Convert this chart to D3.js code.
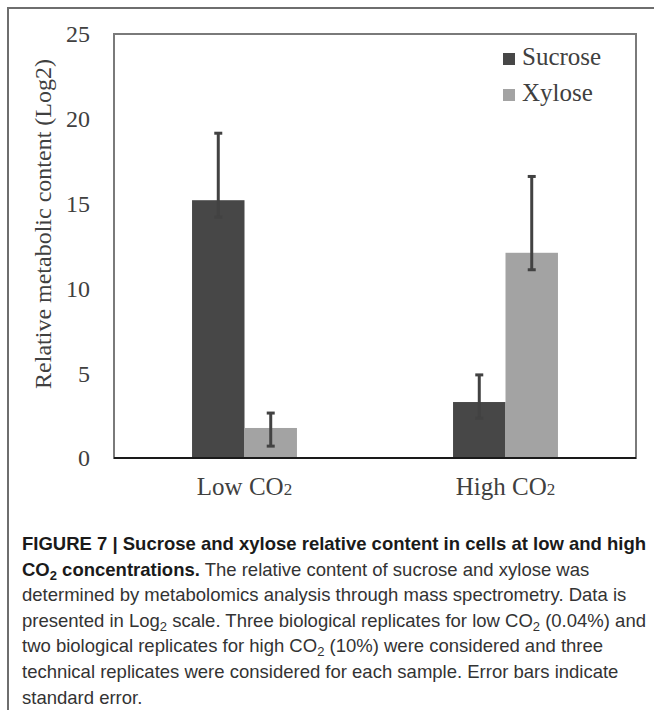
<html>
<head>
  <title></title>
  <script src="https://cdn.jsdelivr.net/npm/d3@7"></script>
<style type="text/css">
body { margin: 0; background: #fff; }
</style>
</head>
<body>
<script type="text/javascript">
// values (Log2 relative content)
var categories = ['Low CO', 'High CO'];
var seriesNames = ['Sucrose', 'Xylose'];
var sucrose = [15.2, 3.3];
var xylose = [1.77, 12.1];
// error bar ends (upper / lower)
var sucroseHi = [19.15, 4.9];
var sucroseLo = [14.2, 2.35];
var xyloseHi = [2.65, 16.6];
var xyloseLo = [0.7, 11.1];
var yTicks = [0, 5, 10, 15, 20, 25];

var colors = {Sucrose: '#474747', Xylose: '#a3a3a3'};
var serif = '"Liberation Serif", "Times New Roman", serif';

var w = 654, h = 710;
// note: "top" is taken by window.top, so plot edges get their own names
var plotL = 114, plotR = 636, plotT = 34, plotB = 458;

var svg = d3.select('body').append('svg')
  .attr('width', w)
  .attr('height', h);

// outer frame (top and left only)
svg.append('path')
  .attr('d', 'M8,710 L8,8 L654,8')
  .attr('fill', 'none')
  .attr('stroke', '#6e6e6e')
  .attr('stroke-width', 2);

var y = d3.scaleLinear().domain([0, 25]).range([plotB, plotT]);
var x0 = d3.scaleBand().domain(categories).range([plotL, plotR])
  .paddingInner(0.598).paddingOuter(0.299);
var x1 = d3.scaleBand().domain(seriesNames).range([0, x0.bandwidth()]);

// plot box
svg.append('rect')
  .attr('x', plotL).attr('y', plotT)
  .attr('width', plotR - plotL).attr('height', plotB - plotT)
  .attr('fill', 'none')
  .attr('stroke', '#7a7a7a')
  .attr('stroke-width', 2);

// y axis tick labels
var yAxis = d3.axisLeft(y).tickValues(yTicks).tickSize(0).tickPadding(0);
var gy = svg.append('g')
  .attr('transform', 'translate(90,0)')
  .call(yAxis);
gy.select('.domain').remove();
gy.selectAll('text')
  .attr('font-family', serif)
  .attr('font-size', 24)
  .attr('fill', '#404040')
  .attr('dy', '0.33em');

// bars
var rows = categories.map(function(c, i) {
  return [
    {cat: c, s: 'Sucrose', v: sucrose[i], hi: sucroseHi[i], lo: sucroseLo[i]},
    {cat: c, s: 'Xylose', v: xylose[i], hi: xyloseHi[i], lo: xyloseLo[i]}
  ];
});
var flat = [].concat.apply([], rows);

svg.selectAll('rect.bar')
  .data(flat)
  .enter()
  .append('rect')
  .attr('class', 'bar')
  .attr('x', function(d) { return x0(d.cat) + x1(d.s); })
  .attr('y', function(d) { return y(d.v); })
  .attr('width', x1.bandwidth())
  .attr('height', function(d) { return y(0) - y(d.v); })
  .attr('fill', function(d) { return colors[d.s]; });

// error bars
var eb = svg.selectAll('g.err')
  .data(flat)
  .enter()
  .append('g')
  .attr('class', 'err')
  .attr('stroke', '#424242')
  .attr('stroke-width', 3);
eb.append('line')
  .attr('x1', function(d) { return x0(d.cat) + x1(d.s) + x1.bandwidth() / 2; })
  .attr('x2', function(d) { return x0(d.cat) + x1(d.s) + x1.bandwidth() / 2; })
  .attr('y1', function(d) { return y(d.hi); })
  .attr('y2', function(d) { return y(d.lo); });
['hi', 'lo'].forEach(function(k) {
  eb.append('line')
    .attr('x1', function(d) { return x0(d.cat) + x1(d.s) + x1.bandwidth() / 2 - 4; })
    .attr('x2', function(d) { return x0(d.cat) + x1(d.s) + x1.bandwidth() / 2 + 4; })
    .attr('y1', function(d) { return y(d[k]); })
    .attr('y2', function(d) { return y(d[k]); });
});

// x axis line
svg.append('line')
  .attr('x1', plotL).attr('x2', plotR)
  .attr('y1', y(0)).attr('y2', y(0))
  .attr('stroke', '#1a1a1a')
  .attr('stroke-width', 2);

// x labels, "2" drawn smaller on the same baseline
var xl = svg.selectAll('text.xl')
  .data(categories)
  .enter()
  .append('text')
  .attr('class', 'xl')
  .attr('x', function(d) { return x0(d) + x0.bandwidth() / 2; })
  .attr('y', 495)
  .attr('text-anchor', 'middle')
  .attr('font-family', serif)
  .attr('font-size', 25)
  .attr('fill', '#404040');
xl.append('tspan').text(function(d) { return d; });
xl.append('tspan').attr('font-size', 17).text('2');

// y axis title
svg.append('text')
  .attr('transform', 'translate(51,224) rotate(-90)')
  .attr('text-anchor', 'middle')
  .attr('font-family', serif)
  .attr('font-size', 24)
  .attr('fill', '#404040')
  .text('Relative metabolic content (Log2)');

// legend
var lg = svg.selectAll('g.lg')
  .data(seriesNames)
  .enter()
  .append('g')
  .attr('class', 'lg')
  .attr('transform', function(d, i) { return 'translate(503,' + (53 + i * 36) + ')'; });
lg.append('rect')
  .attr('width', 12).attr('height', 12)
  .attr('fill', function(d) { return colors[d]; });
lg.append('text')
  .attr('x', 19).attr('y', 12)
  .attr('font-family', serif)
  .attr('font-size', 25)
  .attr('fill', '#404040')
  .text(function(d) { return d; });

// caption
var capLines = [
  [{t: 'FIGURE 7 | Sucrose and xylose relative content in cells at low and high', b: 1}],
  [{t: 'CO', b: 1}, {t: '2', b: 1, sub: 1}, {t: ' concentrations.', b: 1},
   {t: ' The relative content of sucrose and xylose was'}],
  [{t: 'determined by metabolomics analysis through mass spectrometry. Data is'}],
  [{t: 'presented in Log'}, {t: '2', sub: 1}, {t: ' scale. Three biological replicates for low CO'},
   {t: '2', sub: 1}, {t: ' (0.04%) and'}],
  [{t: 'two biological replicates for high CO'}, {t: '2', sub: 1},
   {t: ' (10%) were considered and three'}],
  [{t: 'technical replicates were considered for each sample. Error bars indicate'}],
  [{t: 'standard error.'}]
];

var cap = svg.selectAll('text.cap')
  .data(capLines)
  .enter()
  .append('text')
  .attr('class', 'cap')
  .attr('x', 22)
  .attr('y', function(d, i) { return 550 + i * 25.6; })
  .attr('font-family', '"Liberation Sans", Arial, sans-serif')
  .attr('font-size', 18.5)
  .attr('fill', '#333');
cap.selectAll('tspan')
  .data(function(d) { return d; })
  .enter()
  .append('tspan')
  .attr('font-weight', function(d) { return d.b ? 'bold' : 'normal'; })
  .attr('fill', function(d) { return d.b ? '#1a1a1a' : '#333'; })
  .attr('font-size', function(d) { return d.sub ? 13 : 18.5; })
  .attr('baseline-shift', function(d) { return d.sub ? '-4' : null; })
  .text(function(d) { return d.t; });

</script>
</body>
</html>
